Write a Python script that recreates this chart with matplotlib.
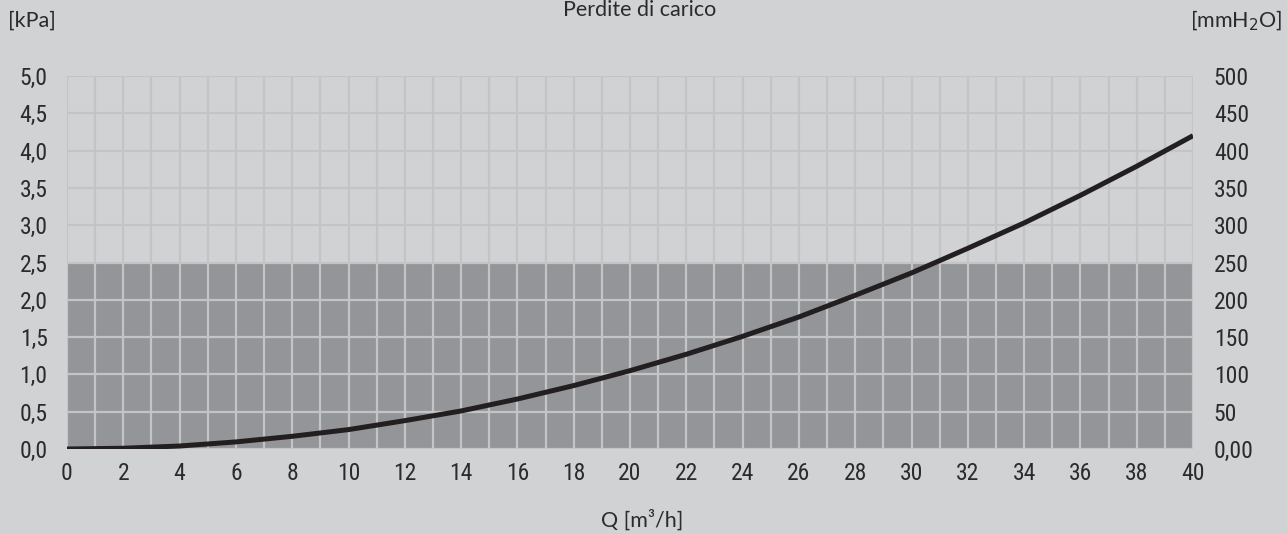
import numpy as np
import matplotlib
matplotlib.use('Agg')
import matplotlib.pyplot as plt
from matplotlib.ticker import FixedLocator
from matplotlib import font_manager

#=============================================================================#
# Data #
#=============================================================================#
q = [0, 2, 4, 6, 8, 10, 12, 14, 16, 18, 20, 22, 24, 26, 28, 30, 32, 34, 36, 38, 40]
dp_kpa = [0.0, 0.01, 0.04, 0.095, 0.17, 0.26, 0.38, 0.51, 0.67, 0.85, 1.05,
          1.27, 1.51, 1.77, 2.06, 2.36, 2.69, 3.03, 3.40, 3.79, 4.20]
band_top = 2.5
x_ticks = list(range(0, 41, 2))
y_left_ticks = [0.0, 0.5, 1.0, 1.5, 2.0, 2.5, 3.0, 3.5, 4.0, 4.5, 5.0]
y_left_labels = ["0,0", "0,5", "1,0", "1,5", "2,0", "2,5", "3,0", "3,5", "4,0", "4,5", "5,0"]
y_right_ticks = [0, 50, 100, 150, 200, 250, 300, 350, 400, 450, 500]
y_right_labels = ["0,00", "50", "100", "150", "200", "250", "300", "350", "400", "450", "500"]

#=============================================================================#
# Pick a narrow font for the tick numbers, if one is there #
#=============================================================================#
TICK_SIZE = 17
tick_fp = font_manager.FontProperties(family='DejaVu Sans', size=TICK_SIZE)
for fam in ['Liberation Sans Narrow', 'Roboto Condensed', 'Open Sans Condensed',
            'Noto Sans', 'DejaVu Sans']:
    for stretch in ['condensed', 'semi-condensed']:
        fp = font_manager.FontProperties(family=fam, stretch=stretch, size=TICK_SIZE)
        try:
            path = font_manager.findfont(fp, fallback_to_default=False)
        except Exception:
            continue
        low = path.lower()
        if 'condensed' in low or 'narrow' in low:
            tick_fp = font_manager.FontProperties(fname=path, size=TICK_SIZE)
            break
    else:
        continue
    break

#=============================================================================#
# Style #
#=============================================================================#
bg = '#d1d2d4'
grid_col = '#c3c4c6'
band_col = '#939598'
txt = '#2b2b2b'
label_font = ['Lato', 'DejaVu Sans']

fig = plt.figure(figsize=(12.87, 5.34), dpi=100, facecolor=bg)
ax = fig.add_axes([67/1287, 1-449/534, (1193-67)/1287, (449-76)/534])
ax.set_facecolor(bg)

ax.set_xlim(0, 40)
ax.set_ylim(0, 5)

# dark band
ax.axhspan(0, band_top, color=band_col, zorder=0.1, lw=0)

# grid
for xv in range(0, 41):
    ax.axvline(xv, color=grid_col, lw=1.6, zorder=0.5)
for yv in y_left_ticks:
    ax.axhline(yv, color=grid_col, lw=1.6, zorder=0.5)

ax.plot(q, dp_kpa, color='#231f20', lw=3.6, zorder=3, solid_capstyle='butt')

for s in ax.spines.values():
    s.set_visible(False)

ax.xaxis.set_major_locator(FixedLocator(x_ticks))
ax.set_xticklabels([str(v) for v in x_ticks], fontproperties=tick_fp, color=txt)
ax.yaxis.set_major_locator(FixedLocator(y_left_ticks))
ax.set_yticklabels(y_left_labels, fontproperties=tick_fp, color=txt)
ax.tick_params(axis='x', length=0, pad=9)
ax.tick_params(axis='y', length=0, pad=14)

ax2 = ax.twinx()
ax2.set_ylim(0, 500)
ax2.yaxis.set_major_locator(FixedLocator(y_right_ticks))
ax2.set_yticklabels(y_right_labels, fontproperties=tick_fp, color=txt)
ax2.tick_params(length=0, pad=15)
for s in ax2.spines.values():
    s.set_visible(False)

fig.text(8/1287, 1-21/534, '[kPa]', family=label_font, fontsize=15.5, color=txt, va='center', ha='left')
fig.text(1283/1287, 1-21/534, '[mmH$_2$O]', family=label_font, fontsize=15.5, color=txt, va='center', ha='right')
fig.text(640/1287, 1.0, 'Perdite di carico', family=label_font, fontsize=15.5, color=txt, va='top', ha='center')
fig.text(642/1287, 1-520/534, 'Q [m³/h]', family=label_font, fontsize=15.5, color=txt, va='center', ha='center')

fig.savefig('out.png', dpi=100, facecolor=bg)
